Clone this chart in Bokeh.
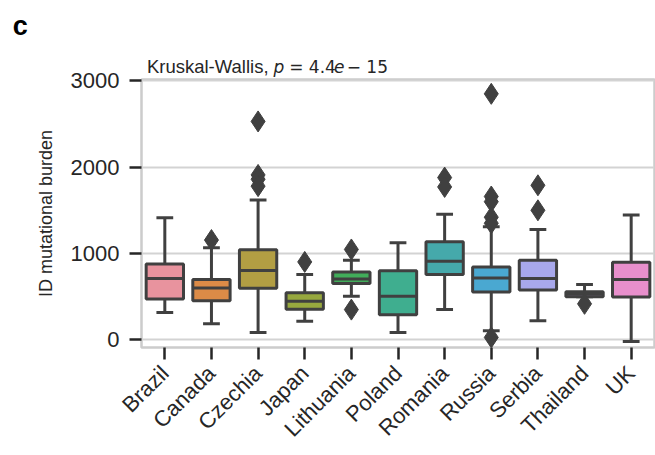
import math
from bokeh.plotting import figure
from bokeh.models import Range1d, FixedTicker, Label
from bokeh.embed import file_html
from bokeh.resources import INLINE

countries = ["Brazil", "Canada", "Czechia", "Japan", "Lithuania", "Poland",
             "Romania", "Russia", "Serbia", "Thailand", "UK"]
q1 = [472, 453, 597, 352, 651, 291, 756, 553, 577, 498, 495]
median = [709, 600, 802, 447, 705, 503, 910, 716, 709, 527, 698]
q3 = [879, 698, 1042, 545, 786, 800, 1135, 844, 922, 556, 899]
whisk_lo = [317, 186, 85, 213, 503, 85, 349, 105, 221, 498, -20]
whisk_hi = [1414, 1065, 1620, 756, 922, 1123, 1453, 1309, 1279, 640, 1445]
fliers = [[], [1155], [2530, 1910, 1860, 1780], [902], [1046, 349], [],
          [1879, 1771], [2850, 1660, 1600, 1420, 1350, 27], [1790, 1500], [416], []]
colors = ["#e8939e", "#dc8b47", "#b29e43", "#97a83e", "#41ad5a", "#3fae8f",
          "#45a9ab", "#4aa8d1", "#a8a8ec", "#c79be2", "#e88fcc"]
y_ticks = [0, 1000, 2000, 3000]

FONT = "Liberation Sans"
MATH = "DejaVu Sans"
DARK = "#262626"
LINE = "#404040"
GRID = "#d3d3d3"
LW = 3

p = figure(width=655, height=455, output_backend="svg", toolbar_location=None,
           x_range=Range1d(-0.5, 10.5), y_range=Range1d(-90, 3016),
           min_border_left=141, min_border_right=1, min_border_top=79,
           min_border_bottom=108)
p.title.visible = False
p.background_fill_color = "white"
p.border_fill_color = "white"
p.outline_line_color = "#cccccc"
p.outline_line_width = 2.5

xs = list(range(len(countries)))

# whiskers
p.segment(x0=xs, y0=q3, x1=xs, y1=whisk_hi, line_color=LINE, line_width=LW)
p.segment(x0=xs, y0=q1, x1=xs, y1=whisk_lo, line_color=LINE, line_width=LW)
# caps
cw = 0.18
p.segment(x0=[x - cw for x in xs], y0=whisk_hi, x1=[x + cw for x in xs], y1=whisk_hi,
          line_color=LINE, line_width=LW)
p.segment(x0=[x - cw for x in xs], y0=whisk_lo, x1=[x + cw for x in xs], y1=whisk_lo,
          line_color=LINE, line_width=LW)
# boxes
p.vbar(x=xs, bottom=q1, top=q3, width=0.8, fill_color=colors, line_color=LINE,
       line_width=LW)
# medians
p.segment(x0=[x - 0.4 for x in xs], y0=median, x1=[x + 0.4 for x in xs], y1=median,
          line_color=LINE, line_width=LW)
# fliers
fx, fy = [], []
for i, fl in enumerate(fliers):
    for v in fl:
        fx.append(i)
        fy.append(v)
p.scatter(x=fx, y=fy, marker="diamond", size=21, fill_color=LINE, line_color=LINE)

# axes
p.xaxis.ticker = FixedTicker(ticks=xs)
p.xaxis.major_label_overrides = {i: c for i, c in enumerate(countries)}
p.xaxis.major_label_orientation = math.pi / 4
p.yaxis.ticker = FixedTicker(ticks=y_ticks)
for ax in (p.xaxis[0], p.yaxis[0]):
    ax.axis_line_color = None
    ax.major_tick_line_color = DARK
    ax.major_tick_line_width = 2.5
    ax.major_tick_out = 12
    ax.major_tick_in = 0
    ax.minor_tick_line_color = None
    ax.major_label_text_font = FONT
    ax.major_label_text_font_size = "22px"
    ax.major_label_text_color = DARK
    ax.major_label_standoff = 10
p.yaxis.axis_label = "ID mutational burden"
p.yaxis.axis_label_text_font = FONT
p.yaxis.axis_label_text_font_size = "18px"
p.yaxis.axis_label_text_font_style = "normal"
p.yaxis.axis_label_text_color = DARK
p.yaxis.axis_label_standoff = 12

p.xgrid.grid_line_color = None
p.ygrid.grid_line_color = GRID
p.ygrid.grid_line_width = 2


def lab(text, x, y, size="18px", style="normal", color=DARK, font=FONT):
    return Label(x=x, y=y, text=text, text_font=font, text_font_size=size,
                 text_font_style=style, text_color=color, text_baseline="alphabetic")


# Title "Kruskal-Wallis, p = 4.4e − 15" (side-panel labels are not clipped)
NB = "\u00a0"
TY = 3165
p.add_layout(lab("c", -3.26, 3634, size="27px", style="bold", color="black"), "above")
p.add_layout(lab("Kruskal-Wallis,", -0.384, TY, size="18.5px"), "above")
p.add_layout(lab("= 4.4" + NB * 2 + "\u2212 15", 2.667, TY, size="17px", font=MATH),
             "above")
p.add_layout(lab("p", 2.333, TY, size="17px", style="italic", font=MATH), "left")
p.add_layout(lab("e", 3.625, TY, size="17px", style="italic", font=MATH), "left")

open("out.html", "w").write(file_html(p, INLINE))
